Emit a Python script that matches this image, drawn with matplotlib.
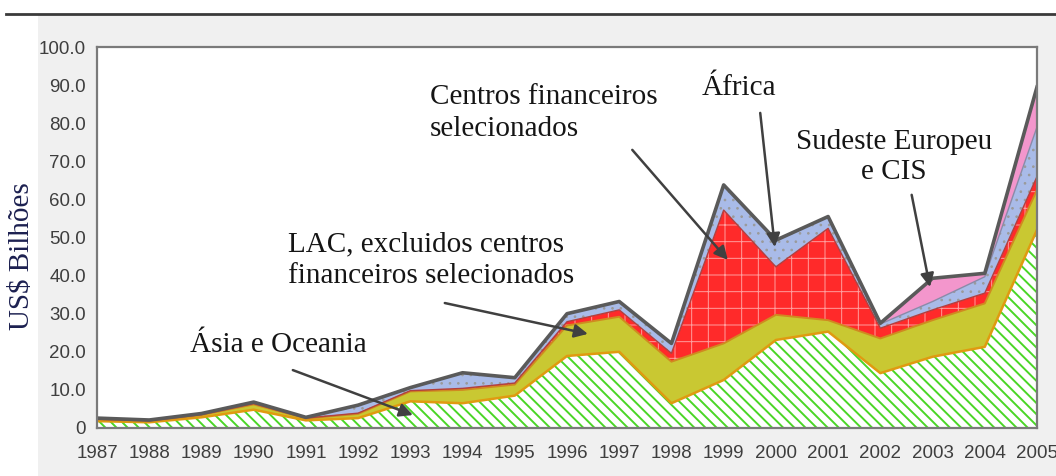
import matplotlib
matplotlib.use('Agg')
import matplotlib.pyplot as plt
import numpy as np
from matplotlib.lines import Line2D
from matplotlib.patches import Rectangle

# ---------------- data (US$ billions, stacked layers) ----------------
years = list(range(1987, 2006))
asia_oceania = [1.8, 1.5, 2.8, 4.8, 2.0, 2.6, 7.0, 6.5, 8.5, 18.9, 20.0, 6.5, 12.6, 23.1, 25.3, 14.4, 18.7, 21.3, 52.0]
lac_excl = [0.4, 0.3, 0.6, 1.4, 0.5, 1.1, 2.6, 3.5, 2.9, 8.0, 9.2, 10.9, 9.6, 6.6, 3.0, 9.1, 9.6, 11.4, 10.5]
centros_fin = [0.1, 0.1, 0.1, 0.2, 0.1, 0.2, 0.2, 0.4, 0.4, 1.0, 1.8, 2.2, 35.0, 12.6, 24.1, 2.7, 2.7, 2.7, 3.5]
africa = [0.3, 0.2, 0.3, 0.4, 0.2, 2.1, 0.8, 4.1, 1.4, 2.1, 2.2, 2.6, 6.6, 7.0, 3.1, 1.1, 2.2, 4.3, 13.0]
sudeste_cis = [0.0, 0.0, 0.0, 0.0, 0.0, 0.0, 0.0, 0.0, 0.0, 0.0, 0.0, 0.0, 0.0, 0.0, 0.0, 0.2, 6.1, 0.9, 10.5]

ytick_values = [0, 10, 20, 30, 40, 50, 60, 70, 80, 90, 100]
ytick_labels = ['0', '10.0', '20.0', '30.0', '40.0', '50.0', '60.0', '70.0', '80.0', '90.0', '100.0']
xtick_labels = [str(y) for y in years]
y_label = 'US$ Bilhões'

W, H = 1056, 476
fig = plt.figure(figsize=(W / 100, H / 100), dpi=100)
fig.patch.set_facecolor('white')
fig.add_artist(Rectangle((38 / W, 0), 1 - 38 / W, (H - 15) / H, transform=fig.transFigure,
                         facecolor='#f0f0f0', edgecolor='none', zorder=0))
fig.add_artist(Line2D([6 / W, 1], [1 - 14 / H, 1 - 14 / H], transform=fig.transFigure,
                      color='#3a3a3a', lw=2, zorder=1))

ax = fig.add_axes([97 / W, (H - 428) / H, (1037 - 97) / W, (428 - 47) / H])
ax.set_facecolor('white')

x = np.array(years, dtype=float)
c1 = np.array(asia_oceania)
c2 = c1 + np.array(lac_excl)
c3 = c2 + np.array(centros_fin)
c4 = c3 + np.array(africa)
c5 = c4 + np.array(sudeste_cis)

# Asia e Oceania: green diagonal hatch on white
plt.rcParams['hatch.linewidth'] = 1.4
ax.fill_between(x, 0, c1, facecolor='white', edgecolor='#4ad626', hatch='\\\\\\', linewidth=0, zorder=2)
# LAC
ax.fill_between(x, c1, c2, facecolor='#c9c832', edgecolor='none', linewidth=0, zorder=2)
# Centros financeiros
plt.rcParams['hatch.linewidth'] = 0.7
ax.fill_between(x, c2, c3, facecolor='#ff2a2a', edgecolor=(1, 1, 1, 0.55), hatch='+', linewidth=0, zorder=2)
# Africa
ax.fill_between(x, c3, c4, facecolor='#a9bbe8', edgecolor='#9a9a9a', hatch='..', linewidth=0, zorder=2)
# Sudeste Europeu e CIS
ax.fill_between(x, c4, c5, facecolor='#f396cc', edgecolor='none', linewidth=0, zorder=2)

# boundaries
ax.plot(x, c1, color='#e09a10', lw=1.8, zorder=3)
ax.plot(x, c2, color='#d08a20', lw=1.4, zorder=3)
ax.plot(x, c3, color='#b04040', lw=1.0, zorder=3)
ax.plot(x, c4, color='#8a8aa8', lw=1.0, zorder=3)
ax.plot(x, c5, color='#5a5a5a', lw=2.6, zorder=4)

ax.set_xlim(1987, 2005)
ax.set_ylim(0, 100)
ax.set_yticks(ytick_values)
ax.set_yticklabels(ytick_labels)
ax.set_xticks(years)
ax.set_xticklabels(xtick_labels)
ax.tick_params(axis='both', length=0, labelsize=13.5, labelcolor='#3e3e3e')
ax.tick_params(axis='y', pad=8)
ax.tick_params(axis='x', pad=12)
for lab in ax.get_xticklabels() + ax.get_yticklabels():
    lab.set_fontfamily('Liberation Sans')
for sp in ax.spines.values():
    sp.set_color('#7a7a7a')
    sp.set_linewidth(1.6)
    sp.set_zorder(5)

ax.set_ylabel(y_label, family='Liberation Serif', fontsize=21, color='#1c2050')
ax.yaxis.set_label_coords(-0.066, 0.45)

serif = dict(family='Liberation Serif', fontsize=21, color='#151515', zorder=6)
arrow = dict(arrowstyle='-|>', color='#404040', lw=1.8, mutation_scale=20, shrinkA=0, shrinkB=0)

ax.text(1988.78, 21.8, 'Ásia e Oceania', ha='left', va='center', **serif)
ax.text(1990.66, 44.1, 'LAC, excluidos centros\nfinanceiros selecionados', ha='left', va='center',
        linespacing=1.3, **serif)
ax.text(1993.38, 82.6, 'Centros financeiros\nselecionados', ha='left', va='center', linespacing=1.3, **serif)
ax.text(1999.29, 89.2, 'África', ha='center', va='center', **serif)
ax.text(2002.26, 71.1, 'Sudeste Europeu\ne CIS', ha='center', va='center', linespacing=1.17, **serif)

ax.annotate('', xy=(1993.05, 3.4), xytext=(1990.75, 15.2), arrowprops=arrow, zorder=6)
ax.annotate('', xy=(1996.4, 24.7), xytext=(1993.66, 32.8), arrowprops=arrow, zorder=6)
ax.annotate('', xy=(1999.08, 44.1), xytext=(1997.25, 73.0), arrowprops=arrow, zorder=6)
ax.annotate('', xy=(1999.98, 47.5), xytext=(1999.7, 82.7), arrowprops=arrow, zorder=6)
ax.annotate('', xy=(2002.95, 37.0), xytext=(2002.6, 61.2), arrowprops=arrow, zorder=6)

fig.savefig('out.png', dpi=100)
